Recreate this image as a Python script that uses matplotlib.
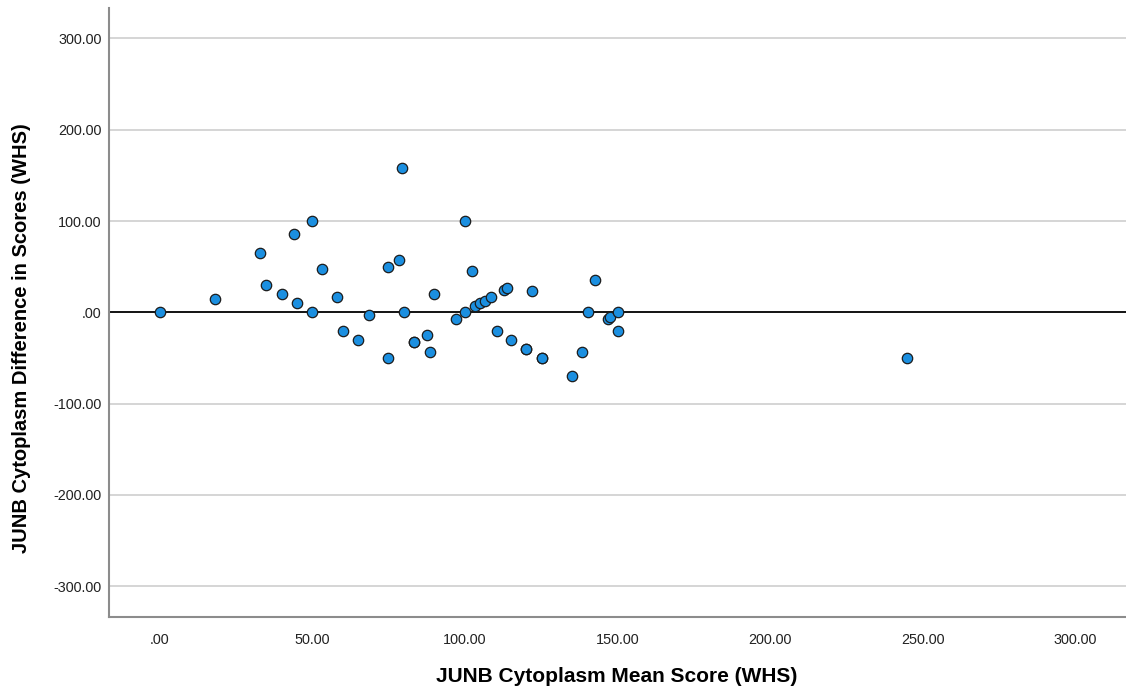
import matplotlib
matplotlib.use("Agg")
import matplotlib.pyplot as plt
from matplotlib.ticker import FuncFormatter

plt.rcParams['font.family'] = ['Liberation Sans', 'DejaVu Sans']

mean_score = [0, 18, 33, 35, 40, 44, 45, 50, 50, 53.3, 58.3, 60, 65, 68.5,
              75, 75, 78.5, 79.5, 80, 83.3, 83.3, 87.5, 88.5, 90, 97, 100, 100,
              102.5, 103.3, 105, 106.5, 108.5, 110.5, 112.8, 113.8, 115.3,
              120, 120, 122, 125.3, 125.3, 135.3, 138.5, 140.3, 142.7, 147,
              147.7, 150.3, 150.3, 245]
diff_score = [0, 15, 65, 30, 20, 86, 10, 100, 0, 47, 17, -20, -30, -3,
              50, -50, 57, 158, 0, -33, -33, -25, -43, 20, -7, 100, 0,
              45, 6.5, 10, 12.5, 17, -20, 25, 27, -30,
              -40, -40, 23, -50, -50, -70, -43, 0, 35, -7,
              -5, 0, -20, -50]
x_ticks = [0, 50, 100, 150, 200, 250, 300]
y_ticks = [-300, -200, -100, 0, 100, 200, 300]

W, H = 1126, 689
fig = plt.figure(figsize=(W / 100, H / 100), dpi=100)
ax = fig.add_axes([108.7 / W, 1 - 616.7 / H, (W - 108.7) / W, (616.7 - 8) / H])

ax.set_xlim(-16.67, 316.67)
ax.set_ylim(-333.3, 333.3)

for yv in y_ticks:
    if yv != 0:
        ax.axhline(yv, color='#d2d2d2', lw=1.3, zorder=1)
ax.axhline(0, color='black', lw=1.3, zorder=2)

ax.scatter(mean_score, diff_score, s=56, color='#1b8fe0', edgecolor='#1c1c1c',
           linewidth=0.9, zorder=3)


def fmt(v, pos):
    s = f"{v:.2f}"
    if s.startswith("0."):
        s = s[1:]
    elif s.startswith("-0."):
        s = "-" + s[2:]
    return s


ax.set_xticks(x_ticks)
ax.set_yticks(y_ticks)
ax.xaxis.set_major_formatter(FuncFormatter(fmt))
ax.yaxis.set_major_formatter(FuncFormatter(fmt))
ax.tick_params(axis='both', length=0, labelsize=10.4, labelcolor='#222222')
ax.tick_params(axis='x', pad=12)
ax.tick_params(axis='y', pad=5)

for side in ['top', 'right']:
    ax.spines[side].set_visible(False)
for side in ['left', 'bottom']:
    ax.spines[side].set_color('#8c8c8c')
    ax.spines[side].set_linewidth(1.5)

fig.text(617 / W, 1 - 677 / H, 'JUNB Cytoplasm Mean Score (WHS)', ha='center',
         va='center', fontsize=15, fontweight='bold')
fig.text(22 / W, 1 - 338 / H, 'JUNB Cytoplasm Difference in Scores (WHS)',
         ha='center', va='center', rotation=90, fontsize=14.5, fontweight='bold')

fig.savefig('out.png', dpi=100)
